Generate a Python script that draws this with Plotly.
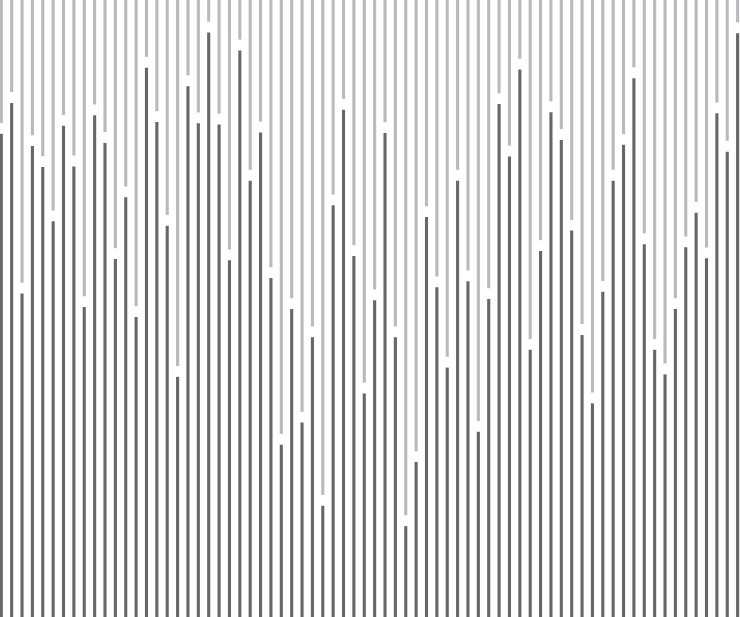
import plotly.graph_objects as go

# one value per column: where the dark part stops (0-100 scale)
positions = list(range(72))
values = [
    79.2, 84.2, 53.3, 77.2, 73.8, 65.0, 80.5, 73.9, 51.1, 82.2,
    77.7, 58.9, 68.9, 49.5, 89.9, 81.1, 64.3, 39.8, 86.9, 80.9,
    95.6, 80.7, 58.7, 92.7, 71.6, 79.4, 55.8, 28.8, 50.8, 32.4,
    46.2, 18.9, 67.6, 83.1, 59.4, 37.1, 52.2, 79.3, 46.2, 15.6,
    26.0, 65.7, 54.3, 41.3, 71.6, 55.3, 30.9, 52.4, 84.0, 75.5,
    89.6, 44.2, 60.2, 82.7, 78.2, 63.5, 46.6, 35.5, 53.6, 71.6,
    77.4, 88.2, 61.3, 44.2, 40.2, 50.8, 60.8, 66.4, 59.0, 82.5,
    76.3, 95.5,
]
top = 100.0
gap = 1.75

dark_h = [v - gap / 2 for v in values]
light_base = [v + gap / 2 for v in values]
light_h = [top - b for b in light_base]

fig = go.Figure()
fig.add_trace(go.Bar(
    x=positions, y=dark_h, base=0,
    width=0.3, marker={"color": "#676767", "line": {"width": 0}},
    hoverinfo="skip",
))
fig.add_trace(go.Bar(
    x=positions, y=light_h, base=light_base,
    width=0.3, marker={"color": "#bababe", "line": {"width": 0}},
    hoverinfo="skip",
))

fig.update_layout(
    width=740, height=617,
    margin={"l": 0, "r": 0, "t": 0, "b": 0},
    paper_bgcolor="white", plot_bgcolor="white",
    showlegend=False, barmode="overlay",
    xaxis={"range": [-0.125, 71.23], "visible": False},
    yaxis={"range": [0, top], "visible": False},
)

# page body has a default 8px margin; drop it so the plot sits at the corner
fig.write_html(
    "out.html",
    config={"displayModeBar": False},
    post_script="document.body.style.margin='0px';",
)
